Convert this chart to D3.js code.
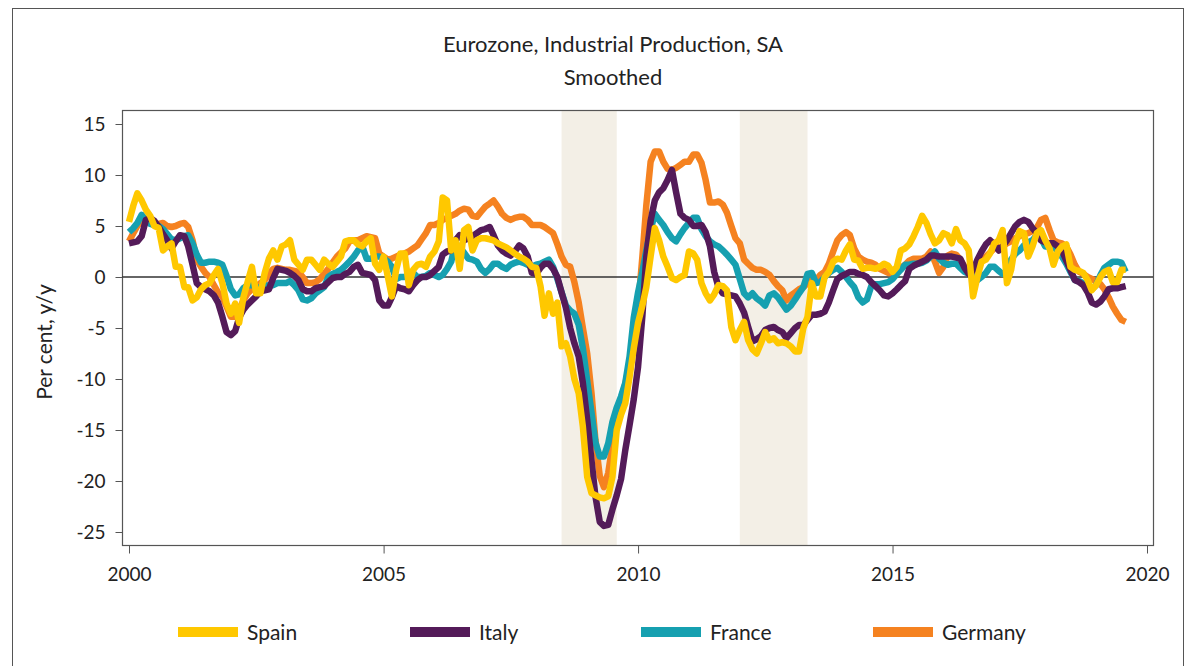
<!DOCTYPE html>
<html>
<head>
<meta charset="utf-8">
<script src="https://cdn.jsdelivr.net/npm/d3@7"></script>
<style>
  html, body { margin: 0; padding: 0; background: #fff; }
  svg { display: block; }
  text { font-family: Lato, "Open Sans", sans-serif; fill: #222; }
</style>
</head>
<body>
<svg id="chart" width="1190" height="666"></svg>
<script>
// ---- Data (monthly, starting January 2000) ----
const startMonth = "2000-01";
const seriesNames = ["Spain", "Italy", "France", "Germany"];

const spain = [5.4,7,8.2,7.5,6.6,6,5,4.8,2.6,3,3.3,1,1,-1,-1,-2.3,-2,-1.2,-0.8,-0.6,0.2,0.8,-0.6,-2.6,-3.6,-2.6,-4.5,-2,-0.5,1,-1.6,-1.6,0.4,1.8,2.6,1.7,3,3.2,3.6,1.7,1.2,0.7,1.7,1.7,1.2,0.7,1.7,1.3,1,1.5,2,3.5,3.6,3.6,3.2,3,3.5,3.8,1.3,0.7,
2,0,-1.9,0.7,2.3,2.3,-0.8,0.7,1.2,1.3,1,2,2.5,3.5,7.8,7.5,2.6,3.6,0.8,4.6,4.9,2.6,3.6,3.8,3.8,3.7,3.6,3.3,3.1,2.9,2.6,2.3,2,1.8,1.5,1,0.9,-0.9,-3.8,-1.6,-3.6,-2.5,-6.8,-6.5,-7.8,-10,-11.4,-14.7,-19.6,-21.2,-21.4,-21.6,-21.7,-21.5,-19.6,-15,-13.5,-12.4,-9.8,-7,
-4.5,-2.8,-1,2,4.8,3.6,2,1,-0.1,-0.3,0,0.2,2.5,2.3,1.7,-0.6,-1.6,-2.3,-1.7,-0.8,-0.9,-1.3,-4.9,-6.2,-5.2,-4.4,-6.2,-7.1,-7.5,-6.5,-5.4,-6.2,-6,-6.5,-6.4,-6.5,-6.8,-7.3,-7.3,-5,-3.9,-0.6,-1.9,-1.9,0,0.5,1.5,1.8,1.7,2.6,3.2,1.7,1.6,0.8,0.9,0.9,0.8,1,1.3,1.1,
0.5,1,2.6,2.8,3.2,4,4.9,6,5.3,4.2,3.3,3.6,4.3,4.1,3.3,4.7,3.6,3.3,2.6,-1.9,0,1.5,1.7,2.3,3.3,3.6,4.6,-0.6,0.7,3.3,4.5,4.3,2,3,4.3,4.6,3.6,2.8,1.2,2.5,3,3.2,1,0.7,0.6,0.4,-0.3,-1.3,-0.8,0,0.5,0.7,-0.5,-0.5,0.7,0.7];

const italy = [3.3,3.4,3.5,4,5.6,5.8,5.5,4.9,4.2,3.6,2.8,3.5,4.1,4,3,1.2,-0.6,-1,-1.2,-1.4,-1.8,-2.5,-3.9,-5.4,-5.7,-5.3,-4,-3.2,-2.7,-2.3,-1.9,-1.4,-1.3,-1.2,-0.1,0.8,0.7,0.6,0.4,0.1,-0.3,-1.2,-1.4,-1.4,-1.1,-1,-0.9,-0.5,-0.1,0,0,0.3,0.5,1,1.2,0.4,0.3,0.2,-0.3,-2.3,
-2.8,-2.8,-2,-0.9,-1.1,-1.2,-1.4,-0.8,-0.3,0,0,0.2,0.6,1,2.2,2.5,2.6,3.6,4.1,3.6,3.8,4,4.3,4.6,4.7,4.9,4.1,3.1,2.6,2.3,2.1,2.5,3.1,2.8,2,0.4,0.3,0.9,1.3,1.3,0.8,0,-1.5,-3,-5,-6.5,-7.8,-10.4,-14,-18,-21.5,-24,-24.4,-24.3,-22.8,-21.4,-19.8,-17,-14.5,-12,
-8.8,-3.8,2,5.5,7.5,8.3,8.7,9.5,10.5,8.3,6.2,5.8,5.6,5,5,5.1,4.4,3,0.5,-1,-1.6,-1.7,-1.8,-1.9,-2.6,-3.5,-4.9,-6.3,-6.1,-5.8,-5.2,-5,-4.9,-5.2,-5.4,-6,-5.5,-5,-4.7,-4.7,-4.2,-3.7,-3.7,-3.6,-3.4,-2.5,-1.3,-0.2,0.1,0.3,0.5,0.5,0.3,0.2,0,-0.5,-0.9,-1.3,-1.8,-1.9,
-1.6,-1.2,-0.8,-0.4,0.8,1.1,1.3,1.5,1.7,2.1,2.1,2,2,2,2,1.9,1.8,0.9,0.3,0.6,1.7,2.5,3.2,3.6,3.2,2.6,3,3.6,4.3,5,5.4,5.6,5.4,4.8,4.3,3.6,3.4,3.3,3.3,3,2.6,1.6,0.7,-0.3,-0.5,-0.8,-1.5,-2.5,-2.7,-2.4,-1.9,-1.2,-1.1,-1.1,-1,-0.9];

const france = [4.4,4.8,5.3,6.1,5.6,5.2,5.1,5,4.7,4.2,3.7,3.6,3.8,4,4.1,3.3,2.2,1.4,1.4,1.5,1.5,1.4,1.2,0.1,-1.2,-1.8,-1.7,-1.1,-0.8,-0.8,-1,-1.1,-0.9,-0.8,-0.8,-0.6,-0.6,-0.6,-0.4,-0.8,-1.3,-2.2,-2.3,-2.1,-1.6,-1.3,-1,0,0.3,0.5,0.7,1.1,1.5,2,2.6,3,1.8,1.8,2,2,
1.8,1.5,1,-0.2,0,0,0.3,0.4,0,0,0.1,0.4,0.2,0,0.2,0.8,1.5,3.3,2.9,2.4,1.8,1.7,1.5,0.8,0.4,0.8,1.3,1.3,1,0.8,1.2,1.4,1.5,1.4,1.2,1,1.2,1.3,1.5,1.7,1,-0.2,-1.5,-2.8,-3.3,-3.6,-4.7,-7,-10.2,-13.3,-16.2,-17.6,-17.6,-16.3,-14.2,-12.8,-11.7,-10.4,-7.8,-4,
-1.5,0.5,2.6,4.6,6.2,5.6,5.1,4.4,3.8,3.5,4.2,4.8,5.3,5.8,5.8,4.7,4,3.5,3.2,3,2.6,2.2,1.7,1.2,-0.2,-1.6,-2,-1.6,-2.1,-2.4,-2.8,-1.8,-1.6,-2,-2.6,-3.2,-2.8,-2.2,-1.6,-1,0.3,0.4,-0.6,-0.5,0,0.4,0.7,0.9,0.5,0,-0.5,-1,-2,-2.5,-2.2,-0.9,-0.7,-0.7,-0.6,-0.5,
-0.2,0.3,0.7,1.2,1.2,1.3,1.3,1.4,1.6,2,2.5,1.8,1.4,1.2,1.3,1.3,0.9,0.5,0.3,0,-0.3,0,0.4,1,1,0.6,0.3,0.2,1.7,2.3,2.6,3.1,3.4,3.6,4.1,3.8,3,3,2.9,2.6,2,1.3,0.5,-0.3,-0.4,-0.6,-1.3,-1.2,-0.8,0.2,0.9,1.2,1.5,1.5,1.4,0.5];

const germany = [3.5,4.3,5,5.6,5.6,5.3,5.1,5.2,5.3,5,4.9,5,5.2,5.3,4.9,3.6,1.7,1,0.4,0,-0.8,-1.5,-1.9,-2.9,-3.9,-3.9,-3.2,-2.3,-1.6,-1.2,-1,-0.6,-0.3,0.3,0.8,0.9,0.8,0.7,0.7,0.6,0.5,0,-0.6,-0.6,-0.5,-0.2,0.3,0.8,1.4,2,2.4,2.8,3.5,3.6,3.6,3.8,4,3.9,3.8,2.3,
2,1.7,1.8,2,2.2,2.3,2.5,2.8,3.1,3.7,4.3,5.1,5.1,5.3,5.6,5.8,6,6.2,6.5,6.7,6.6,6,5.9,6.4,6.9,7.2,7.5,6.9,6.2,5.8,5.6,5.8,5.9,5.9,5.6,5.1,5.1,5.1,4.9,4.6,4.3,3.2,2,1.2,1,-0.5,-2.5,-5,-7.5,-11.4,-16,-19.5,-20.6,-19.2,-16.5,-14,-12,-10.5,-8.5,-6,
-3,2,7,11.3,12.3,12.3,11.3,10.6,10.5,10.7,11,11.3,11.3,12,12,11.2,9.5,7.3,7.3,7.4,7.1,6.3,5,3.8,3.3,1.7,1.3,0.9,0.7,0.7,0.5,0.2,-0.4,-0.9,-1.3,-2.3,-1.8,-1.5,-1.2,-1,-0.6,-0.3,-0.3,0.2,0.5,1.3,2.5,3.6,4.1,4.4,4.1,2.8,2,1.7,1.5,1.4,1.2,0.8,0.6,0.4,
0.4,0.6,0.9,1.2,1.6,1.8,1.8,1.8,2,2.5,1.5,0.4,1,2.1,2.3,2.2,1.7,1,0.6,0.8,1.2,1.6,2,2.4,2.8,2.9,3,3.3,3.5,3.8,4,4.2,4.3,4.5,4.8,5.6,5.8,4.6,3.6,3.4,3.3,3,2.2,1.2,0.5,0.3,0,-0.2,-0.4,-0.7,-1.2,-2,-2.9,-3.6,-4.2,-4.4];

const seriesValues = [spain, italy, france, germany];
const seriesColors = ["#FFC800", "#541B59", "#16A0B0", "#F58220"];

const yTicks = [15, 10, 5, 0, -5, -10, -15, -20, -25];
const xTickYears = [2000, 2005, 2010, 2015, 2020];
const shadedPeriods = [["2008-07", "2009-08"], ["2012-01", "2013-05"]];

const titleLines = ["Eurozone, Industrial Production, SA", "Smoothed"];
const yAxisLabel = "Per cent, y/y";

// ---- Drawing ----
const svg = d3.select("#chart");
const parseMonth = d3.timeParse("%Y-%m");
const start = parseMonth(startMonth);

const x = d3.scaleTime()
  .domain([new Date(2000, 0, 1), new Date(2020, 0, 1)])
  .range([129, 1147]);
const y = d3.scaleLinear().domain([-25, 15]).range([532, 124]);

const plot = { left: 122, right: 1153, top: 110, bottom: 545 };

// outer frame
svg.append("rect")
  .attr("x", 12.5).attr("y", 8.5).attr("width", 1171).attr("height", 700)
  .attr("fill", "none").attr("stroke", "#555").attr("stroke-width", 1);

// shaded periods
svg.append("g").selectAll("rect").data(shadedPeriods).join("rect")
  .attr("x", d => x(parseMonth(d[0])))
  .attr("width", d => x(parseMonth(d[1])) - x(parseMonth(d[0])))
  .attr("y", plot.top).attr("height", plot.bottom - plot.top)
  .attr("fill", "#F3EFE6");

// plot frame
svg.append("rect")
  .attr("x", plot.left + 0.5).attr("y", plot.top + 0.5)
  .attr("width", plot.right - plot.left).attr("height", plot.bottom - plot.top)
  .attr("fill", "none").attr("stroke", "#555").attr("stroke-width", 1.2);

// zero line
svg.append("line")
  .attr("x1", plot.left).attr("x2", plot.right)
  .attr("y1", y(0)).attr("y2", y(0))
  .attr("stroke", "#333").attr("stroke-width", 1.3);

// lines (Germany first, Spain on top)
const line = d3.line()
  .x((d, i) => x(d3.timeMonth.offset(start, i)))
  .y(d => y(d));

const order = [3, 2, 1, 0];
svg.append("g").selectAll("path").data(order).join("path")
  .attr("d", k => line(seriesValues[k]))
  .attr("fill", "none")
  .attr("stroke", k => seriesColors[k])
  .attr("stroke-width", 6.5)
  .attr("stroke-linejoin", "round")
  .attr("stroke-linecap", "butt");

// y axis
const yAxis = d3.axisLeft(y).tickValues(yTicks).tickFormat(d => String(d))
  .tickSize(7).tickPadding(10).tickSizeOuter(0);
const gy = svg.append("g").attr("transform", `translate(${plot.left + 0.5},0)`).call(yAxis);
gy.select(".domain").remove();
gy.selectAll(".tick line").attr("stroke", "#555");
gy.selectAll(".tick text").style("font-size", "19px").style("font-family", "Lato, sans-serif").attr("fill", "#222");

// x axis
const xAxis = d3.axisBottom(x)
  .tickValues(xTickYears.map(yr => new Date(yr, 0, 1)))
  .tickFormat(d3.timeFormat("%Y")).tickSize(8).tickPadding(14).tickSizeOuter(0);
const gx = svg.append("g").attr("transform", `translate(0,${plot.bottom + 0.5})`).call(xAxis);
gx.select(".domain").remove();
gx.selectAll(".tick line").attr("stroke", "#555");
gx.selectAll(".tick text").style("font-size", "19px").style("font-family", "Lato, sans-serif").attr("fill", "#222");

// titles
svg.append("g").selectAll("text").data(titleLines).join("text")
  .attr("x", 613).attr("y", (d, i) => 52 + i * 33)
  .attr("text-anchor", "middle")
  .style("font-size", "22px")
  .text(d => d);

// y label
svg.append("text")
  .attr("transform", "translate(52,342) rotate(-90)")
  .attr("text-anchor", "middle")
  .style("font-size", "21px")
  .text(yAxisLabel);

// legend
const legendX = [178, 410, 641, 873];
const lg = svg.append("g").selectAll("g").data(seriesNames).join("g")
  .attr("transform", (d, i) => `translate(${legendX[i]},632)`);
lg.append("rect").attr("x", 0).attr("y", -5).attr("width", 60).attr("height", 10)
  .attr("fill", (d, i) => seriesColors[i]);
lg.append("text").attr("x", 69).attr("y", 8)
  .style("font-size", "21px")
  .text(d => d);
</script>
</body>
</html>
